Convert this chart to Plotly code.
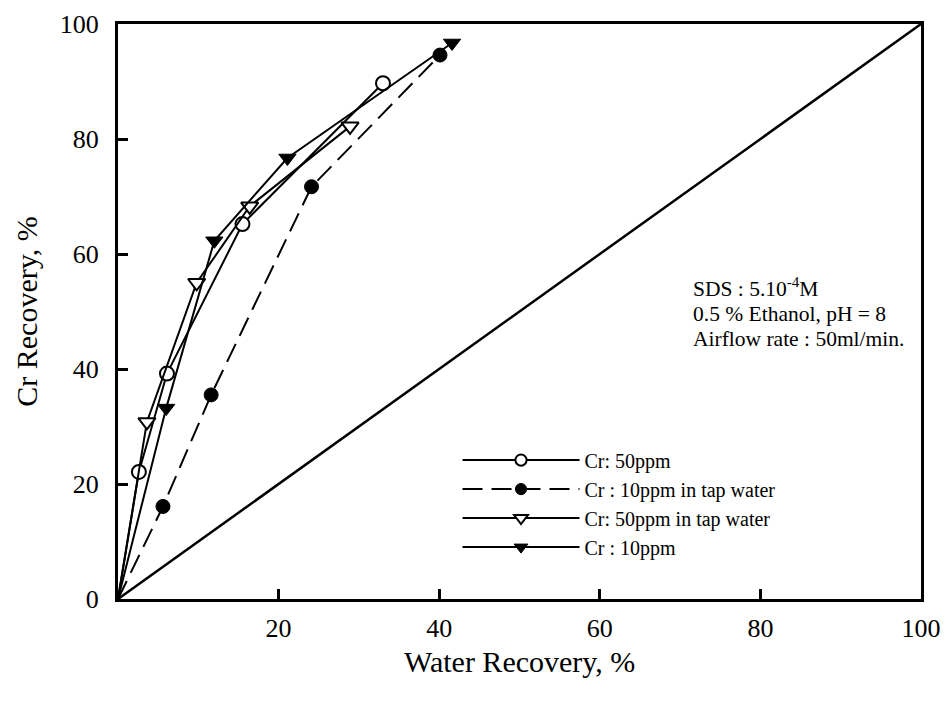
import plotly.graph_objects as go

# Data
cr50_x = [0, 2.6, 6.1, 15.5, 33.0]
cr50_y = [0, 22.1, 39.2, 65.2, 89.7]

cr10tap_x = [0, 5.6, 11.6, 24.1, 40.1]
cr10tap_y = [0, 16.1, 35.5, 71.7, 94.6]

cr50tap_x = [0, 3.6, 9.8, 16.4, 28.9]
cr50tap_y = [0, 30.8, 55.0, 68.3, 82.2]

cr10_x = [0, 6.0, 12.0, 21.1, 41.6]
cr10_y = [0, 33.2, 62.3, 76.7, 96.7]

diag_x = [0, 100]
diag_y = [0, 100]

x_ticks = [20, 40, 60, 80, 100]
y_ticks = [0, 20, 40, 60, 80, 100]

x_title = "Water Recovery, %"
y_title = "Cr Recovery, %"
note_lines = ["SDS : 5.10<sup>-4</sup>M", "0.5 % Ethanol, pH = 8", "Airflow rate : 50ml/min."]

FONT = "Liberation Serif"


def sizes(xs, s):
    # no marker drawn at the origin point
    return [0 if x == 0 else s for x in xs]


fig = go.Figure()

fig.add_trace(go.Scatter(x=diag_x, y=diag_y, mode="lines",
                         line=dict(color="black", width=2.5), showlegend=False, hoverinfo="skip"))

fig.add_trace(go.Scatter(x=cr50_x, y=cr50_y, mode="lines+markers", name="Cr: 50ppm",
                         line=dict(color="black", width=2),
                         marker=dict(symbol="circle", size=sizes(cr50_x, 14), color="white", opacity=1,
                                     line=dict(color="black", width=2))))
fig.add_trace(go.Scatter(x=cr10tap_x, y=cr10tap_y, mode="lines+markers", name="Cr : 10ppm in tap water",
                         line=dict(color="black", width=2, dash="20px,9px"),
                         marker=dict(symbol="circle", size=sizes(cr10tap_x, 14), color="black", opacity=1,
                                     line=dict(color="black", width=1))))
fig.add_trace(go.Scatter(x=cr50tap_x, y=cr50tap_y, mode="lines+markers", name="Cr: 50ppm in tap water",
                         line=dict(color="black", width=2),
                         marker=dict(symbol="triangle-down", size=sizes(cr50tap_x, 15), color="white", opacity=1,
                                     line=dict(color="black", width=2))))
fig.add_trace(go.Scatter(x=cr10_x, y=cr10_y, mode="lines+markers", name="Cr : 10ppm",
                         line=dict(color="black", width=2),
                         marker=dict(symbol="triangle-down", size=sizes(cr10_x, 15), color="black", opacity=1,
                                     line=dict(color="black", width=1))))

axis_common = dict(
    showline=True, linecolor="black", linewidth=3, mirror=True,
    ticks="inside", ticklen=10, tickwidth=2.5, tickcolor="black",
    showgrid=False, zeroline=False, automargin=False, ticklabeloverflow="allow",
    tickfont=dict(family=FONT, size=26, color="black"),
)

fig.update_xaxes(range=[0, 100], tickvals=x_ticks, ticktext=[str(v) for v in x_ticks],
                 ticklabelstandoff=4, **axis_common)
fig.update_yaxes(range=[0, 100], tickvals=y_ticks, ticktext=[str(v) for v in y_ticks],
                 title=dict(text=y_title, font=dict(family=FONT, size=30, color="black"),
                            standoff=14),
                 ticklabelstandoff=11, **axis_common)

fig.add_annotation(xref="paper", yref="paper", x=0.5, y=-0.108, xanchor="center", yanchor="middle",
                   showarrow=False, text=x_title,
                   font=dict(family=FONT, size=30, color="black"))

note_y = [0.5426, 0.4957, 0.452]
for txt, yy in zip(note_lines, note_y):
    fig.add_annotation(xref="paper", yref="paper", x=0.714, y=yy, xanchor="left", yanchor="middle",
                       align="left", showarrow=False, text=txt,
                       font=dict(family=FONT, size=21.5, color="black"))

fig.update_layout(
    width=940, height=686,
    margin=dict(l=110, r=27, t=16, b=95),
    paper_bgcolor="white", plot_bgcolor="white",
    font=dict(family=FONT, color="black"),
    legend=dict(x=0.4228, y=0.2755, xanchor="left", yanchor="top",
                font=dict(family=FONT, size=20, color="black"),
                bgcolor="rgba(0,0,0,0)", itemwidth=117, tracegroupgap=0),
)

fig.write_html("out.html")
